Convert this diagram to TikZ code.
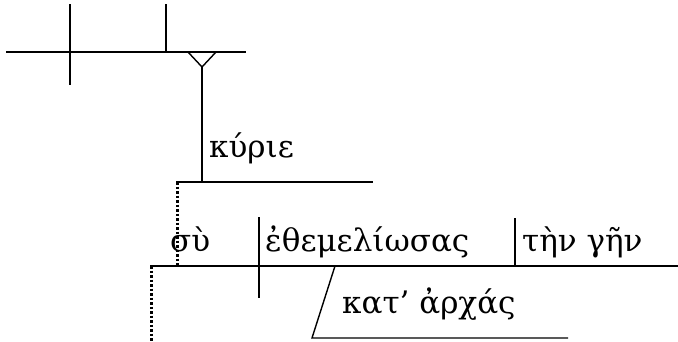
\documentclass[tikz,border=0pt]{standalone}
\usepackage{fontspec}
\setmainfont{DejaVu Serif}
\begin{document}
\begin{tikzpicture}[x=1pt,y=-1pt,
  ln/.style={line width=1.4pt},
  dotln/.style={line width=3pt, dash pattern=on 2.5pt off 2pt},
  word/.style={anchor=base west, inner sep=0pt, font=\fontsize{31}{35}\selectfont}]
\useasboundingbox (0,0) rectangle (678,341);
% coordinates
\coordinate (tL) at (6,52);   \coordinate (tR) at (246,52);
\coordinate (a1) at (70,4);   \coordinate (a2) at (70,85);
\coordinate (b1) at (166,4);  \coordinate (b2) at (166,52);
\coordinate (v1) at (188,52); \coordinate (v0) at (202,67); \coordinate (v2) at (216,52);
\coordinate (kb) at (202,182);
\coordinate (kL) at (176,182); \coordinate (kR) at (373,182);
\coordinate (d1) at (177,182); \coordinate (d2) at (177,266);
\coordinate (mL) at (150,266); \coordinate (mR) at (678,266);
\coordinate (s1) at (259,217); \coordinate (s2) at (259,298);
\coordinate (o1) at (515,218); \coordinate (o2) at (515,266);
\coordinate (e1) at (151,266); \coordinate (e2) at (151,341);
\coordinate (p1) at (335,266); \coordinate (p2) at (312,338); \coordinate (p3) at (568,338);
% texts
\node[word] (kyrie) at (209,157) {κύριε};
\node[word] (sy) at (170,251) {σὺ};
\node[word] (verb) at (265,251) {ἐθεμελίωσας};
\node[word] (obj) at (522,251) {τὴν γῆν};
\node[word] (mod) at (342,313) {κατ’ ἀρχάς};
% lines
\draw[ln] (tL) -- (tR);
\draw[ln] (a1) -- (a2);
\draw[ln] (b1) -- (b2);
\draw[ln] (v1) -- (v0) -- (v2);
\draw[ln] (v0) -- (kb);
\draw[ln] (kL) -- (kR);
\draw[dotln] (d1) -- (d2);
\draw[ln] (mL) -- (mR);
\draw[ln] (s1) -- (s2);
\draw[ln] (o1) -- (o2);
\draw[dotln] (e1) -- (e2);
\draw[ln] (p1) -- (p2) -- (p3);
\end{tikzpicture}
\end{document}
